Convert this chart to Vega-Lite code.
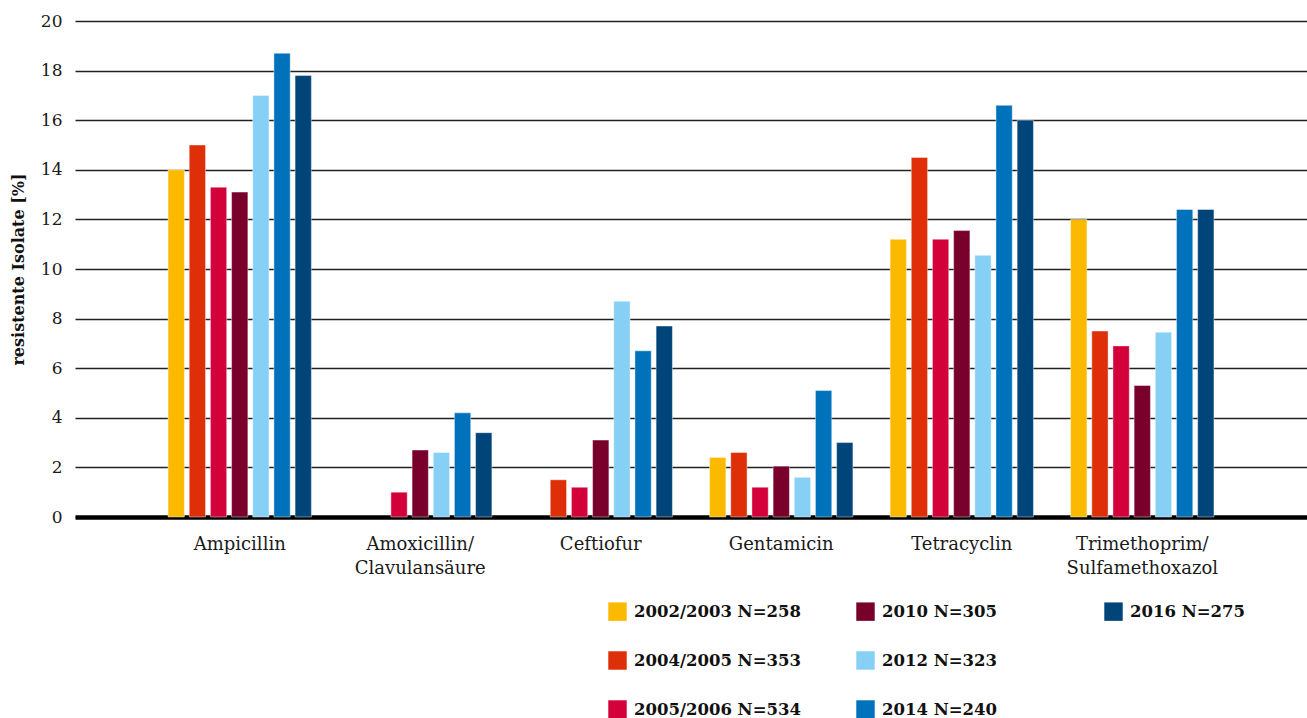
{
  "$schema": "https://vega.github.io/schema/vega-lite/v6.json",
  "autosize": {"type": "none"},
  "width": 1232,
  "height": 496,
  "padding": {"left": 75, "top": 21, "right": 0, "bottom": 201},
  "background": "white",
  "data": {
    "values": [
      {"Wirkstoff": "Ampicillin", "Jahr": "2002/2003 N=258", "Wert": 14.0},
      {"Wirkstoff": "Ampicillin", "Jahr": "2004/2005 N=353", "Wert": 15.0},
      {"Wirkstoff": "Ampicillin", "Jahr": "2005/2006 N=534", "Wert": 13.3},
      {"Wirkstoff": "Ampicillin", "Jahr": "2010 N=305", "Wert": 13.1},
      {"Wirkstoff": "Ampicillin", "Jahr": "2012 N=323", "Wert": 17.0},
      {"Wirkstoff": "Ampicillin", "Jahr": "2014 N=240", "Wert": 18.7},
      {"Wirkstoff": "Ampicillin", "Jahr": "2016 N=275", "Wert": 17.8},
      {"Wirkstoff": "Amoxicillin/Clavulansäure", "Jahr": "2005/2006 N=534", "Wert": 1.0},
      {"Wirkstoff": "Amoxicillin/Clavulansäure", "Jahr": "2010 N=305", "Wert": 2.7},
      {"Wirkstoff": "Amoxicillin/Clavulansäure", "Jahr": "2012 N=323", "Wert": 2.6},
      {"Wirkstoff": "Amoxicillin/Clavulansäure", "Jahr": "2014 N=240", "Wert": 4.2},
      {"Wirkstoff": "Amoxicillin/Clavulansäure", "Jahr": "2016 N=275", "Wert": 3.4},
      {"Wirkstoff": "Ceftiofur", "Jahr": "2004/2005 N=353", "Wert": 1.5},
      {"Wirkstoff": "Ceftiofur", "Jahr": "2005/2006 N=534", "Wert": 1.2},
      {"Wirkstoff": "Ceftiofur", "Jahr": "2010 N=305", "Wert": 3.1},
      {"Wirkstoff": "Ceftiofur", "Jahr": "2012 N=323", "Wert": 8.7},
      {"Wirkstoff": "Ceftiofur", "Jahr": "2014 N=240", "Wert": 6.7},
      {"Wirkstoff": "Ceftiofur", "Jahr": "2016 N=275", "Wert": 7.7},
      {"Wirkstoff": "Gentamicin", "Jahr": "2002/2003 N=258", "Wert": 2.4},
      {"Wirkstoff": "Gentamicin", "Jahr": "2004/2005 N=353", "Wert": 2.6},
      {"Wirkstoff": "Gentamicin", "Jahr": "2005/2006 N=534", "Wert": 1.2},
      {"Wirkstoff": "Gentamicin", "Jahr": "2010 N=305", "Wert": 2.05},
      {"Wirkstoff": "Gentamicin", "Jahr": "2012 N=323", "Wert": 1.6},
      {"Wirkstoff": "Gentamicin", "Jahr": "2014 N=240", "Wert": 5.1},
      {"Wirkstoff": "Gentamicin", "Jahr": "2016 N=275", "Wert": 3.0},
      {"Wirkstoff": "Tetracyclin", "Jahr": "2002/2003 N=258", "Wert": 11.2},
      {"Wirkstoff": "Tetracyclin", "Jahr": "2004/2005 N=353", "Wert": 14.5},
      {"Wirkstoff": "Tetracyclin", "Jahr": "2005/2006 N=534", "Wert": 11.2},
      {"Wirkstoff": "Tetracyclin", "Jahr": "2010 N=305", "Wert": 11.55},
      {"Wirkstoff": "Tetracyclin", "Jahr": "2012 N=323", "Wert": 10.55},
      {"Wirkstoff": "Tetracyclin", "Jahr": "2014 N=240", "Wert": 16.6},
      {"Wirkstoff": "Tetracyclin", "Jahr": "2016 N=275", "Wert": 16.0},
      {"Wirkstoff": "Trimethoprim/Sulfamethoxazol", "Jahr": "2002/2003 N=258", "Wert": 12.0},
      {"Wirkstoff": "Trimethoprim/Sulfamethoxazol", "Jahr": "2004/2005 N=353", "Wert": 7.5},
      {"Wirkstoff": "Trimethoprim/Sulfamethoxazol", "Jahr": "2005/2006 N=534", "Wert": 6.9},
      {"Wirkstoff": "Trimethoprim/Sulfamethoxazol", "Jahr": "2010 N=305", "Wert": 5.3},
      {"Wirkstoff": "Trimethoprim/Sulfamethoxazol", "Jahr": "2012 N=323", "Wert": 7.45},
      {"Wirkstoff": "Trimethoprim/Sulfamethoxazol", "Jahr": "2014 N=240", "Wert": 12.4},
      {"Wirkstoff": "Trimethoprim/Sulfamethoxazol", "Jahr": "2016 N=275", "Wert": 12.4}
    ]
  },
  "mark": {"type": "bar", "stroke": "white", "strokeWidth": 0.7, "strokeOpacity": 0.6},
  "encoding": {
    "x": {
      "field": "Wirkstoff",
      "type": "nominal",
      "sort": ["Ampicillin", "Amoxicillin/Clavulansäure", "Ceftiofur", "Gentamicin", "Tetracyclin", "Trimethoprim/Sulfamethoxazol"],
      "scale": {"paddingInner": 0.206, "paddingOuter": 0.5155},
      "axis": {
        "title": null,
        "labelAngle": 0,
        "labelFont": "DejaVu Serif",
        "labelFontSize": 18,
        "labelColor": "#1a1a1a",
        "labelPadding": 18,
        "labelLineHeight": 24,
        "labelBaseline": "top",
        "labelExpr": "indexof(datum.label, '/') > 0 ? [slice(datum.label, 0, indexof(datum.label, '/') + 1), slice(datum.label, indexof(datum.label, '/') + 1)] : datum.label",
        "ticks": false,
        "domain": true,
        "domainColor": "black",
        "domainWidth": 4.5,
        "grid": false
      }
    },
    "xOffset": {
      "field": "Jahr",
      "type": "nominal",
      "scale": {
        "domain": ["2002/2003 N=258", "2004/2005 N=353", "2005/2006 N=534", "2010 N=305", "2012 N=323", "2014 N=240", "2016 N=275"],
        "paddingInner": 0.23,
        "paddingOuter": 0
      }
    },
    "y": {
      "field": "Wert",
      "type": "quantitative",
      "scale": {"domain": [0, 20], "nice": false},
      "axis": {
        "title": "resistente Isolate [%]",
        "titleFont": "DejaVu Serif",
        "titleFontSize": 16,
        "titleFontWeight": "bold",
        "titleColor": "#111",
        "titlePadding": 14,
        "values": [0, 2, 4, 6, 8, 10, 12, 14, 16, 18, 20],
        "labelFont": "DejaVu Serif",
        "labelFontSize": 17,
        "labelColor": "#1a1a1a",
        "labelPadding": 13,
        "ticks": false,
        "domain": false,
        "grid": true,
        "gridColor": "#222",
        "gridWidth": 1.5
      }
    },
    "color": {
      "field": "Jahr",
      "type": "nominal",
      "scale": {
        "domain": ["2002/2003 N=258", "2004/2005 N=353", "2005/2006 N=534", "2010 N=305", "2012 N=323", "2014 N=240", "2016 N=275", "~"],
        "range": ["#FBBA00", "#DE2F08", "#D3003A", "#78002B", "#87D0F5", "#0072BC", "#00457A", "rgba(255,255,255,0)"]
      },
      "legend": {
        "title": null,
        "values": ["2002/2003 N=258", "2004/2005 N=353", "2005/2006 N=534", "2010 N=305", "2012 N=323", "2014 N=240", "2016 N=275", "~"],
        "labelExpr": "datum.value == '~' ? '' : datum.label",
        "orient": "none",
        "direction": "vertical",
        "legendX": 533,
        "legendY": 581,
        "columns": 3,
        "gridAlign": "all",
        "columnPadding": 55,
        "rowPadding": 30,
        "symbolType": "square",
        "symbolSize": 340,
        "symbolStrokeWidth": 0,
        "labelFont": "DejaVu Serif",
        "labelFontSize": 16.5,
        "labelFontWeight": "bold",
        "labelColor": "#111",
        "labelOffset": 7,
        "labelLimit": 300
      }
    }
  },
  "config": {"view": {"stroke": null}}
}
